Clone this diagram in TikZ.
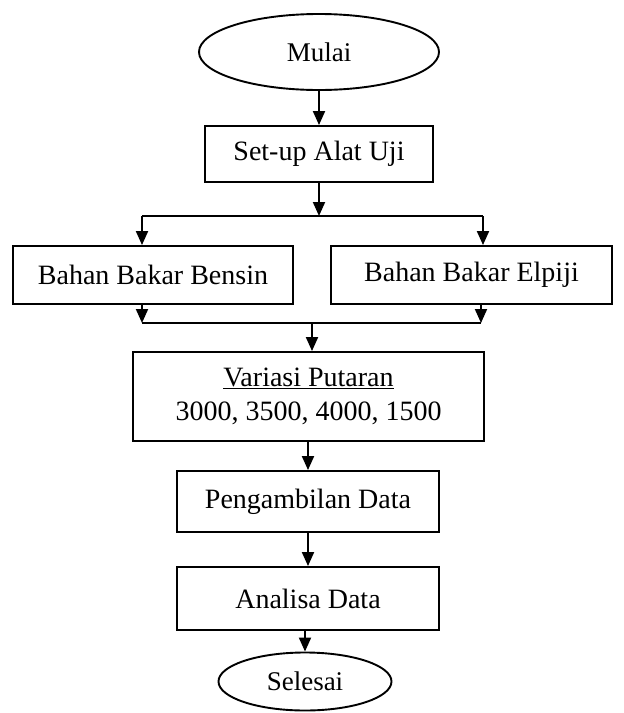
\documentclass[tikz,border=0pt]{standalone}
\usepackage{fontspec}
\setmainfont{Liberation Serif}
\usetikzlibrary{shapes.geometric,arrows.meta}
\begin{document}
\begin{tikzpicture}[x=1pt,y=-1pt, line width=1.9pt,
  txt/.style={font=\fontsize{28}{34}\selectfont},
  box/.style={draw, rectangle, inner sep=0pt, txt},
  oval/.style={draw, ellipse, inner sep=0pt, font=\fontsize{27}{32}\selectfont},
  arr/.style={-{Triangle[width=12pt,length=14pt]}}]
\useasboundingbox (0,0) rectangle (624,713);
\node[oval, minimum width=240pt, minimum height=76pt] (mulai) at (319,52) {Mulai};
\node[box, minimum width=228pt, minimum height=56pt] (setup) at (319,154) {Set-up Alat Uji};
\node[box, minimum width=280pt, minimum height=58pt] (bensin) at (153,275) {Bahan Bakar Bensin};
\node[box, minimum width=281pt, minimum height=58pt] (elpiji) at (471.5,275) {Bahan Bakar Elpiji};
\node[box, minimum width=351pt, minimum height=89pt, align=center] (variasi) at (308.5,396.5) {\underline{Variasi Putaran}\\3000, 3500, 4000, 1500};
\node[box, minimum width=262pt, minimum height=61pt] (ambil) at (308,501.5) {Pengambilan Data};
\node[box, minimum width=262pt, minimum height=63pt] (analisa) at (308,598.5) {Analisa Data};
\node[oval, minimum width=173pt, minimum height=58pt] (selesai) at (305,681.5) {Selesai};
\coordinate (j1) at (319,216);
\coordinate (jl) at (142,216);
\coordinate (jr) at (483,216);
\coordinate (k1) at (312,323);
\coordinate (kl) at (142,323);
\coordinate (kr) at (481,323);
\draw[arr] (mulai.south) -- (setup.north);
\draw[arr] (setup.south) -- (j1);
\draw (jl) -- (jr);
\draw[arr] (jl) -- (jl |- bensin.north);
\draw[arr] (jr) -- (jr |- elpiji.north);
\draw[arr] (kl |- bensin.south) -- (kl);
\draw[arr] (kr |- elpiji.south) -- (kr);
\draw (kl) -- (kr);
\draw[arr] (k1) -- (k1 |- variasi.north);
\draw[arr] (variasi.south -| ambil.north) -- (ambil.north);
\draw[arr] (ambil.south) -- (analisa.north);
\draw[arr] (analisa.south -| selesai.north) -- (selesai.north);
\end{tikzpicture}
\end{document}
